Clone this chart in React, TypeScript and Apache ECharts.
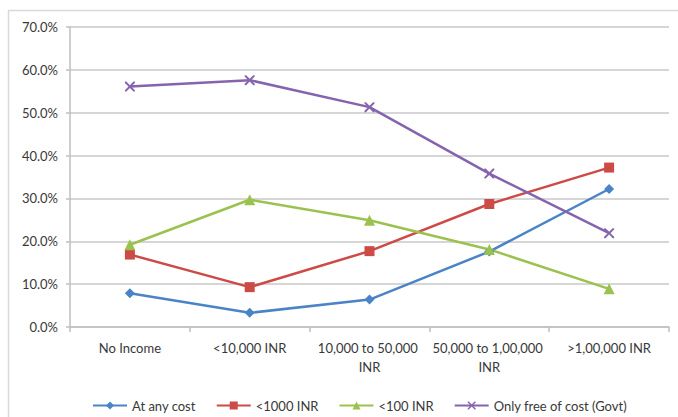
import React, { useEffect, useRef } from "react";
import * as echarts from "echarts";

const categories = [
  "No Income",
  "<10,000 INR",
  "10,000 to 50,000 INR",
  "50,000 to 1,00,000 INR",
  ">1,00,000 INR",
];

const atAnyCost = [7.9, 3.3, 6.4, 17.6, 32.2];
const below1000 = [16.9, 9.3, 17.7, 28.7, 37.2];
const below100 = [19.2, 29.7, 24.9, 18.1, 8.9];
const onlyFree = [56.1, 57.6, 51.3, 35.8, 21.9];

const seriesNames = ["At any cost", "<1000 INR", "<100 INR", "Only free of cost (Govt)"];
const seriesColors = ["#4A84C6", "#CD4B47", "#9BC24F", "#8563AE"];

const crossSymbol =
  "path://M0,0L1.4,0L5,3.6L8.6,0L10,0L10,1.4L6.4,5L10,8.6L10,10L8.6,10L5,6.4L1.4,10L0,10L0,8.6L3.6,5L0,1.4Z";

export default function App() {
  const ref = useRef<HTMLDivElement>(null);

  useEffect(() => {
    if (!ref.current) return;
    const chart = echarts.init(ref.current, null, { renderer: "svg" });
    const font = "Lato, 'Open Sans', sans-serif";
    const values = [atAnyCost, below1000, below100, onlyFree];
    const symbols = ["diamond", "rect", "triangle", crossSymbol];
    const sizes = [10, 10, 11, 10];

    chart.setOption({
      animation: false,
      backgroundColor: "#ffffff",
      textStyle: { fontFamily: font },
      graphic: [
        {
          type: "rect",
          shape: { x: 8.5, y: 10.5, width: 720, height: 460 },
          style: { fill: "none", stroke: "#d9d9d9", lineWidth: 1.5 },
          silent: true,
          z: -1,
        },
      ],
      grid: { left: 70, right: 9, top: 27, bottom: 90, containLabel: false },
      legend: {
        bottom: 0,
        left: 87,
        itemWidth: 34,
        itemHeight: 10,
        itemGap: 20,
        textStyle: { fontSize: 13, color: "#383838", fontFamily: font },
        data: seriesNames,
      },
      xAxis: {
        type: "category",
        data: categories,
        boundaryGap: true,
        axisLine: { lineStyle: { color: "#bfbfbf", width: 1.5 } },
        axisTick: { show: true, length: 5, lineStyle: { color: "#bfbfbf", width: 1.5 } },
        axisLabel: {
          fontSize: 13,
          color: "#383838",
          margin: 11,
          lineHeight: 19,
          width: 118,
          overflow: "break",
          interval: 0,
        },
      },
      yAxis: {
        type: "value",
        min: 0,
        max: 70,
        interval: 10,
        axisLine: { show: true, lineStyle: { color: "#bfbfbf", width: 1.5 } },
        axisTick: { show: true, length: 4, lineStyle: { color: "#bfbfbf", width: 1.5 } },
        splitLine: { lineStyle: { color: "#c8c8c8", width: 1.5 } },
        axisLabel: {
          fontSize: 13,
          color: "#383838",
          margin: 12,
          formatter: (v: number) => v.toFixed(1) + "%",
        },
      },
      series: seriesNames.map((name, i) => ({
        name,
        type: "line",
        data: values[i],
        symbol: symbols[i],
        symbolSize: sizes[i],
        showSymbol: true,
        lineStyle: { color: seriesColors[i], width: 2.5 },
        itemStyle: { color: seriesColors[i], borderWidth: 0 },
      })),
    });

    return () => chart.dispose();
  }, []);

  return (
    <div
      ref={ref}
      style={{ position: "absolute", left: 0, top: 0, width: 678, height: 417 }}
    />
  );
}
